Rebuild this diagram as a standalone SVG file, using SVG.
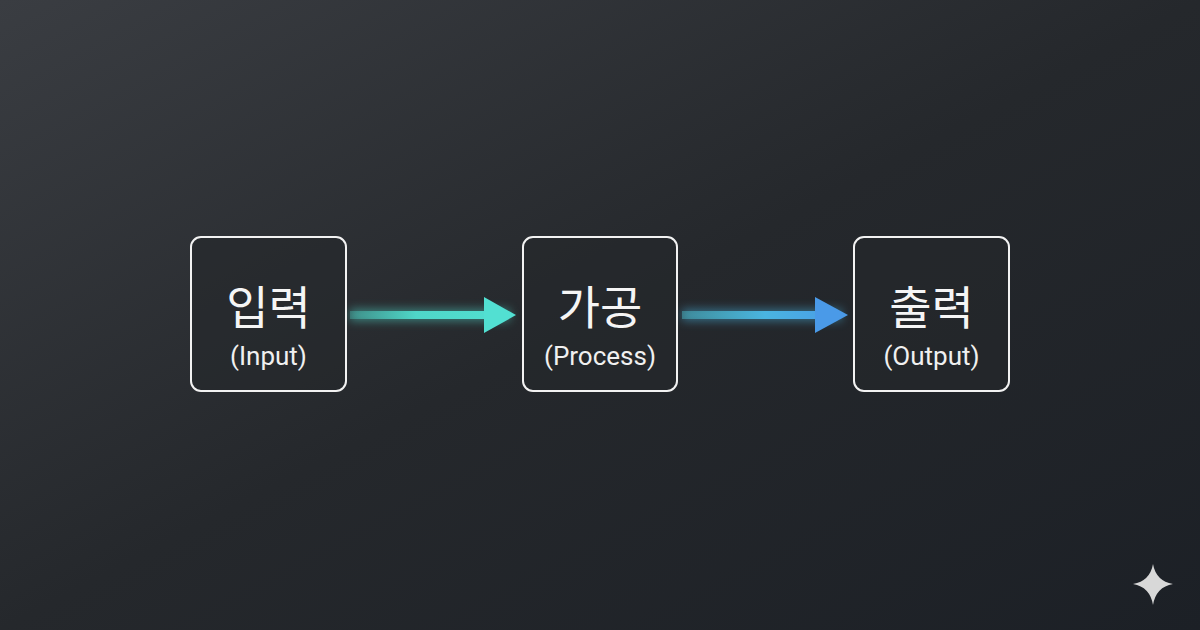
<svg xmlns="http://www.w3.org/2000/svg" width="1200" height="630" viewBox="0 0 1200 630">
<defs>
<linearGradient id="bg" x1="0" y1="0" x2="1" y2="1">
<stop offset="0" stop-color="#3a3d42"/><stop offset="0.5" stop-color="#25282c"/><stop offset="1" stop-color="#1c2026"/>
</linearGradient>
<linearGradient id="a1" x1="350" y1="0" x2="515" y2="0" gradientUnits="userSpaceOnUse">
<stop offset="0" stop-color="#4fd6c8" stop-opacity="0.3"/><stop offset="0.4" stop-color="#4fd6c8"/><stop offset="1" stop-color="#52e0d2"/>
</linearGradient>
<linearGradient id="a2" x1="682" y1="0" x2="848" y2="0" gradientUnits="userSpaceOnUse">
<stop offset="0" stop-color="#4fc8d6" stop-opacity="0.4"/><stop offset="0.5" stop-color="#4ab4e0"/><stop offset="1" stop-color="#4a9ae8"/>
</linearGradient>
<filter id="glow" x="-20%" y="-200%" width="140%" height="500%"><feGaussianBlur stdDeviation="5"/></filter>
<style>
.box{fill:#25282c;fill-opacity:0.6;stroke:#f2f2f2;stroke-width:2}
.t1{font-family:"Noto Sans CJK KR","Noto Sans",sans-serif;font-size:46px;fill:#f5f5f5;text-anchor:middle}
.t2{font-family:Roboto,"Noto Sans",sans-serif;font-size:26px;fill:#f0f0f0;text-anchor:middle}
</style>
</defs>
<rect width="1200" height="630" fill="url(#bg)"/>
<g id="connectors">
<g opacity="0.5" filter="url(#glow)"><rect x="350" y="309" width="160" height="12" fill="#4fd6c8"/><rect x="682" y="309" width="160" height="12" fill="#4ab4e0"/></g>
<rect x="350" y="311" width="137" height="8" fill="url(#a1)"/>
<polygon points="484,297 516,315 484,333" fill="#52e0d2"/>
<rect x="682" y="311" width="136" height="8" fill="url(#a2)"/>
<polygon points="815,297 848,315 815,333" fill="#4a9ae8"/>
</g>
<g id="input"><rect class="box" x="191" y="237" width="155" height="154" rx="10"/><text class="t1" x="268.5" y="324">입력</text><text class="t2" x="268.5" y="365">(Input)</text></g>
<g id="process"><rect class="box" x="523" y="237" width="154" height="154" rx="10"/><text class="t1" x="600" y="324">가공</text><text class="t2" x="600" y="365">(Process)</text></g>
<g id="output"><rect class="box" x="854" y="237" width="155" height="154" rx="10"/><text class="t1" x="931.5" y="324">출력</text><text class="t2" x="931.5" y="365">(Output)</text></g>
<path d="M1153,564 Q1156,581 1173,584 Q1156,587 1153,605 Q1150,587 1133,584 Q1150,581 1153,564 Z" fill="#d8d8d8"/>
</svg>
